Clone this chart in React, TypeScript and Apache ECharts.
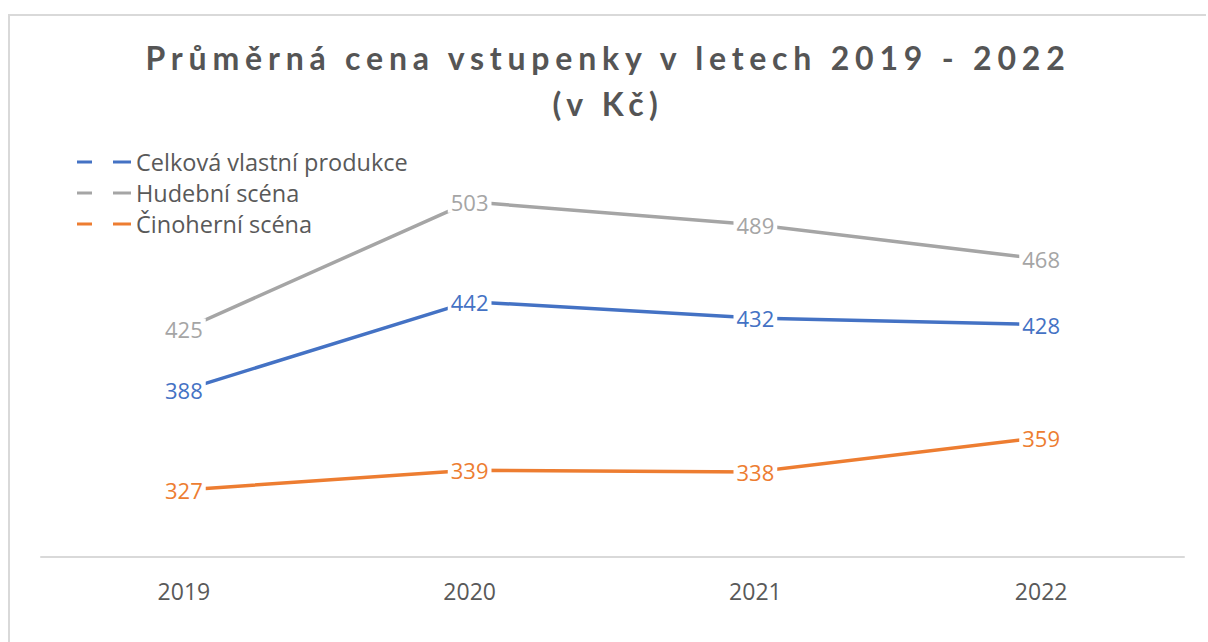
import React, { useEffect, useRef } from 'react';
import * as echarts from 'echarts';

const years = ['2019', '2020', '2021', '2022'];
const celkova = [388, 442, 432, 428];
const hudebni = [425, 503, 489, 468];
const cinoherni = [327, 339, 338, 359];
const seriesNames = ['Celková vlastní produkce', 'Hudební scéna', 'Činoherní scéna'];
const titleText = 'Průměrná cena vstupenky v letech 2019 - 2022\n(v Kč)';
const colors = ['#4472C4', '#A5A5A5', '#ED7D31'];

export default function App() {
  const ref = useRef<HTMLDivElement>(null);
  useEffect(() => {
    const chart = echarts.init(ref.current!, undefined, { renderer: 'svg' });
    const data = [celkova, hudebni, cinoherni];
    chart.setOption({
      animation: false,
      title: {
        text: titleText,
        left: 'center',
        top: 18,
        padding: 0,
        textStyle: { fontFamily: 'Lato', fontWeight: 'bold', fontSize: 32, color: '#555555', lineHeight: 46 },
      },
      legend: {
        orient: 'vertical',
        left: 62,
        top: 129,
        itemGap: 7,
        itemWidth: 54,
        itemHeight: 3,
        selectedMode: false,
        data: seriesNames.map((n) => ({ name: n, icon: 'path://M0,0H15V3H0ZM36,0H54V3H36Z' })),
        textStyle: { fontFamily: 'Open Sans', fontSize: 23.5, color: '#595959', lineHeight: 22 },
      },
      grid: { left: 31, top: 158, width: 1143, height: 383 },
      xAxis: {
        type: 'category',
        data: years,
        boundaryGap: true,
        axisLine: { lineStyle: { color: '#D9D9D9', width: 2 } },
        axisTick: { show: false },
        axisLabel: { fontFamily: 'Open Sans', fontSize: 23, color: '#595959', margin: 22 },
      },
      yAxis: { type: 'value', min: 286, max: 520, show: false },
      series: seriesNames.map((name, i) => ({
        name,
        type: 'line',
        data: data[i],
        symbol: 'circle',
        symbolSize: 0,
        showSymbol: true,
        lineStyle: { color: colors[i], width: 3.5 },
        itemStyle: { color: colors[i] },
        label: {
          show: true,
          position: 'inside',
          color: colors[i],
          fontFamily: 'Open Sans',
          fontSize: 22,
          backgroundColor: '#fff',
          padding: [0, 3],
        },
      })),
    });
    return () => chart.dispose();
  }, []);
  return (
    <div style={{ position: 'fixed', left: 0, top: 0, width: 1206, height: 642, overflow: 'hidden', background: '#fff' }}>
      <style>{`.chartbox svg text[style*="Lato"] { letter-spacing: 5.8px; }`}</style>
      <div
        ref={ref}
        className="chartbox"
        style={{ position: 'absolute', left: 8, top: 14, width: 1196, height: 650, border: '2px solid #D9D9D9' }}
      />
    </div>
  );
}
